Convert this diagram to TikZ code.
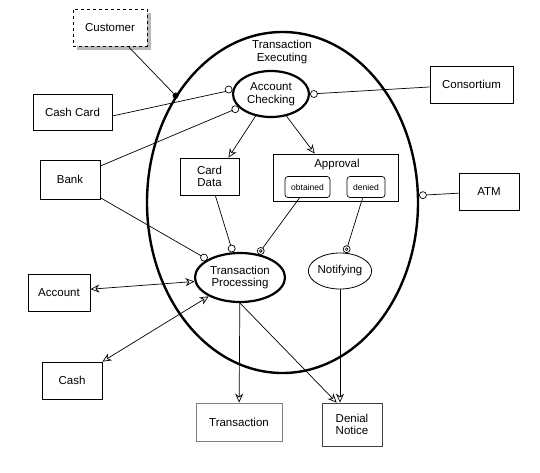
\documentclass[tikz,border=0pt]{standalone}
\usepackage{fontspec}
\setmainfont{Liberation Sans}
\usetikzlibrary{shapes.geometric,arrows.meta}
\tikzset{
  box/.style={draw, rectangle, line width=0.8pt, align=center, inner sep=0pt},
  proc/.style={draw, ellipse, line width=2.2pt, align=center, inner sep=0pt},
  substate/.style={draw, rounded corners=3pt, line width=0.7pt, inner sep=0pt, font=\fontsize{8.5}{10}\selectfont},
  port/.style={draw, circle, fill=white, line width=0.7pt, inner sep=0pt, minimum size=7pt},
  bport/.style={port, path picture={\draw[line width=0.6pt] (path picture bounding box.center) circle (1.4pt);}},
  link/.style={line width=0.7pt},
  flow/.style={-{Stealth[open,length=9pt,width=8pt]}, line width=0.7pt},
  dflow/.style={{Stealth[open,length=9pt,width=8pt]}-{Stealth[open,length=9pt,width=8pt]}, line width=0.7pt},
}
\begin{document}
\begin{tikzpicture}[x=1pt, y=-1pt, font=\fontsize{11.5}{12.5}\selectfont]
    \useasboundingbox (0,0) rectangle (540,472);
    \node [proc, line width=2.4pt, minimum width=271pt, minimum height=341pt] (te) at (282.5,202.5) {};
    \node [align=center] (tel) at (282,52) {Transaction\\Executing};

    \node [fill=gray!55, minimum width=74pt, minimum height=37pt, inner sep=0pt] (custsh) at (114,31.5) {};
    \node [box, dashed, fill=white, minimum width=74pt, minimum height=37pt] (cust) at (110,27.5) {Customer};
    \node [box, minimum width=79pt, minimum height=36pt] (cc) at (72.5,112.5) {Cash Card};
    \node [box, minimum width=60pt, minimum height=39pt] (bank) at (70,179.5) {Bank};
    \node [box, minimum width=83pt, minimum height=37pt] (cons) at (471.5,84.5) {Consortium};
    \node [box, minimum width=60pt, minimum height=37pt] (atm) at (489,191.5) {ATM};
    \node [box, minimum width=62pt, minimum height=37pt] (acct) at (59,292.5) {Account};
    \node [box, minimum width=60pt, minimum height=37pt] (cash) at (72,380.5) {Cash};
    \node [box, draw=gray, minimum width=86pt, minimum height=38pt] (trans) at (239,422) {Transaction};
    \node [box, draw=black!75, minimum width=60pt, minimum height=43pt] (dn) at (352,424.5) {Denial\\Notice};

    \node [box, minimum width=59pt, minimum height=37pt] (cd) at (209.5,176.5) {Card\\Data};
    \node [box, minimum width=125pt, minimum height=47pt] (appr) at (335.5,177.5) {};
    \node (apprl) at (337,165) {Approval};
    \node [substate, minimum width=45pt, minimum height=21pt] (obt) at (307.5,187) {obtained};
    \node [substate, minimum width=38pt, minimum height=21pt] (den) at (366,187) {denied};

    \node [proc, minimum width=76pt, minimum height=46pt] (ac) at (271,94) {Account\\Checking};
    \node [proc, minimum width=90pt, minimum height=49pt] (tp) at (240,277.5) {Transaction\\Processing};
    \node [proc, line width=0.8pt, minimum width=62pt, minimum height=36pt] (not) at (340,271) {Notifying};

    % connectors
    \node [circle, fill, inner sep=0pt, minimum size=6pt] (dot) at (te.135) {};
    \draw [link] (cust) -- (dot);
    \draw [link] (cc.-5) -- (ac.174);
    \draw [link] (bank.24) -- (ac.203);
    \draw [link] (bank.-31) -- (tp.151);
    \draw [link] (cons) -- (ac.east);
    \draw [link] (atm) -- (te.3);
    \draw [flow] (ac.-125) -- (cd.45);
    \draw [flow] (ac.-55) -- (appr.131);
    \draw [link] (cd) -- (tp.106);
    \draw [link] (obt) -- (tp.52);
    \draw [link] (den) -- (not.73);
    \draw [flow] (not) -- (not |- dn.north);
    \draw [flow] (tp) -- (trans);
    \draw [flow] (tp.south) -- (dn.125);
    \draw [dflow] (acct.6) -- (tp.185);
    \draw [dflow] (cash.north east) -- (tp.211);

    \node [port, anchor=354] (pcc) at (ac.174) {};
    \node [port, anchor=23] (pbank) at (ac.203) {};
    \node [port, anchor=west] (pcons) at (ac.east) {};
    \node [port, anchor=183] (patm) at (te.3) {};
    \node [port, anchor=331] (ptp) at (tp.151) {};
    \node [port, anchor=286] (pcd) at (tp.106) {};
    \node [bport, anchor=232] (pobt) at (tp.52) {};
    \node [bport, anchor=253] (pden) at (not.73) {};
\end{tikzpicture}
\end{document}
